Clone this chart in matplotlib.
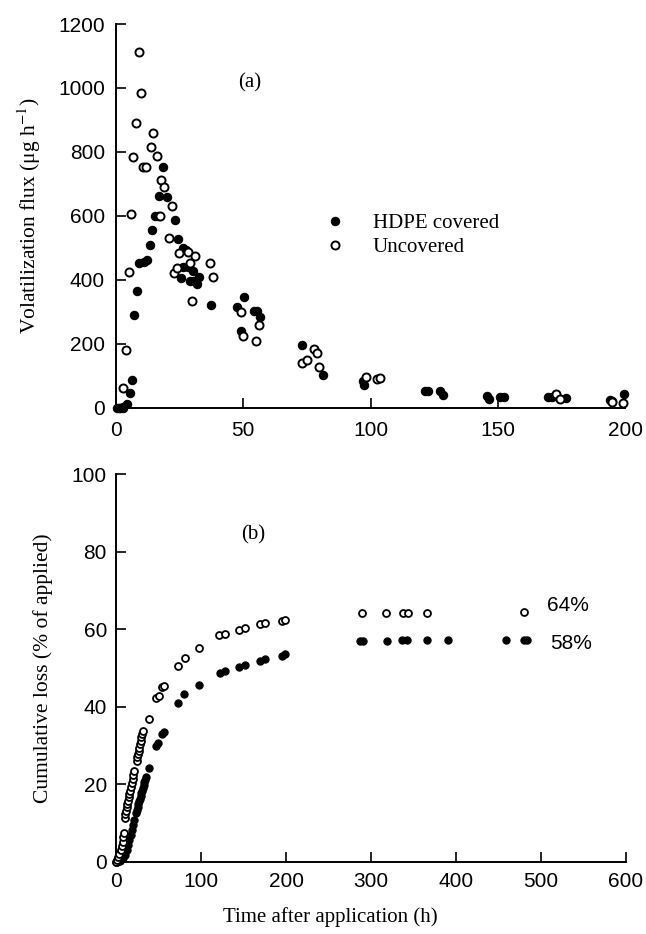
import matplotlib
matplotlib.use("Agg")
import matplotlib.pyplot as plt

# ---------------- data: panel (a) volatilization flux ----------------
t_cov_a = [0.3, 1.3, 1.6, 2.6, 2.9, 4.2, 5.5, 6.3, 7.2, 8.3, 9.2, 10.8, 12.0, 13.4, 14.3,
           15.5, 16.5, 16.8, 18.6, 20.0, 23.2, 24.2, 25.4, 26.2, 26.5, 27.3, 28.1, 29.1,
           30.4, 30.7, 31.7, 32.6, 37.5, 47.6, 49.1, 50.4, 54.3, 55.4, 56.5, 73.2, 81.4,
           97.1, 97.4, 121.3, 122.6, 127.3, 128.6, 145.7, 146.7, 150.9, 152.5, 169.6,
           171.1, 176.8, 194.2, 195.0, 199.5]
f_cov_a = [0, 0, 0, 0, 2, 12, 46, 88, 292, 366, 452, 456, 462, 508, 557,
           601, 601, 663, 752, 659, 588, 527, 405, 499, 440, 494, 442, 397,
           428, 397, 387, 410, 323, 316, 241, 348, 304, 304, 283, 197, 103,
           85, 72, 54, 54, 54, 40, 37, 27, 35, 33, 33,
           35, 30, 25, 21, 44]

t_unc_a = [2.9, 3.9, 5.0, 6.0, 6.8, 7.7, 8.9, 9.9, 10.5, 11.8, 13.9, 14.7, 16.0, 17.1,
           17.8, 18.8, 20.9, 21.9, 22.9, 23.8, 24.9, 28.1, 29.1, 29.8, 30.9, 36.9, 38.0,
           49.0, 50.0, 55.0, 56.0, 72.9, 74.9, 77.7, 78.8, 79.8, 98.4, 102.4, 103.7,
           172.8, 174.5, 195.0, 199.2]
f_unc_a = [62, 180, 424, 606, 785, 891, 1111, 983, 752, 752, 817, 860, 788, 600,
           712, 690, 532, 630, 421, 439, 484, 487, 453, 333, 475, 452, 408,
           300, 226, 208, 258, 140, 149, 185, 172, 127, 97, 92, 95,
           44, 29, 18, 17]

# ---------------- data: panel (b) cumulative loss ----------------
t_cov_b = [0, 1.6, 4.7, 7.8, 10.2, 12.5, 14.1, 15.7, 17.3, 18.8, 20.4, 21.0,
           23.5, 24.4, 25.3, 26.2, 27.1, 28.0, 28.9, 29.8, 30.7, 31.6, 32.5, 33.4, 34.3, 35.2,
           39.2, 47.0, 49.8, 54.1, 56.5, 72.5, 80.0, 98.0, 122.4, 128.6, 145.0, 152.0,
           169.4, 175.7, 195.0, 199.0, 287, 291, 318.5, 336, 342, 366, 391, 459, 480, 483]
c_cov_b = [0, 0, 0.3, 0.9, 1.8, 3.1, 4.4, 5.7, 7.0, 8.2, 9.5, 10.8,
           12.5, 13.3, 14.1, 14.9, 15.6, 16.3, 17.0, 17.7, 18.4, 19.1, 19.8, 20.5, 21.2, 21.8,
           24.1, 30.0, 30.6, 33.0, 33.4, 41.0, 43.2, 45.6, 48.8, 49.2, 50.3, 50.7,
           51.8, 52.2, 53.2, 53.5, 57.0, 57.0, 57.0, 57.1, 57.1, 57.1, 57.2, 57.2, 57.3, 57.3]

t_unc_b = [0, 0.8, 2.5, 4.0, 5.5, 6.7, 7.8, 8.6, 9.4, 10.5, 11.0, 11.8, 12.5, 13.3, 14.1,
           14.9, 15.7, 16.5, 17.6, 18.8, 19.6, 20.4, 21.2,
           24.3, 25.1, 25.9, 26.7, 27.5, 28.3, 29.1, 29.9, 30.7, 31.4,
           38.8, 47.0, 50.2, 54.1, 56.9, 73.3, 81.2, 98.0, 121.6, 127.8, 145.0, 152.0,
           169.4, 175.7, 195.0, 199.0, 289, 318, 338, 343, 366, 480]
c_unc_b = [0, 0.5, 1.2, 2.1, 3.1, 4.1, 5.2, 6.4, 7.6, 11.3, 12.3, 13.1, 14.1, 15.0, 15.8,
           16.7, 17.5, 18.4, 19.3, 20.3, 21.3, 22.4, 23.5,
           26.1, 27.0, 27.8, 28.7, 29.5, 30.4, 31.2, 32.1, 32.9, 33.8,
           36.8, 42.2, 42.8, 45.1, 45.4, 50.6, 52.5, 55.2, 58.5, 58.8, 59.8, 60.2,
           61.3, 61.5, 62.2, 62.4, 64.3, 64.3, 64.3, 64.3, 64.3, 64.4]

xticks_a = [0, 50, 100, 150, 200]
yticks_a = [0, 200, 400, 600, 800, 1000, 1200]
xticks_b = [0, 100, 200, 300, 400, 500, 600]
yticks_b = [0, 20, 40, 60, 80, 100]

SANS = "Liberation Sans"
SERIF = "Liberation Serif"
plt.rcParams["mathtext.fontset"] = "stix"

fig = plt.figure(figsize=(6.46, 9.34), dpi=100)
ax1 = fig.add_axes([0.1796, 0.5632, 0.788, 0.4111])
ax2 = fig.add_axes([0.1796, 0.0771, 0.7895, 0.4154])


def style(ax, xt, yt, xpad, ypad):
    for s in ("top", "right"):
        ax.spines[s].set_visible(False)
    for s in ("left", "bottom"):
        ax.spines[s].set_linewidth(1.4)
    ax.set_xticks(xt)
    ax.set_yticks(yt)
    ax.tick_params(axis="both", direction="in", length=7, width=1.2)
    ax.tick_params(axis="x", pad=xpad)
    ax.tick_params(axis="y", pad=ypad)
    for lab in ax.get_xticklabels() + ax.get_yticklabels():
        lab.set_fontfamily(SANS)
        lab.set_fontsize(15)


# ---- panel (a)
ax1.plot(t_cov_a, f_cov_a, "o", ms=6.0, mfc="black", mec="black", mew=0.8,
         clip_on=False, label="HDPE covered", zorder=3)
ax1.plot(t_unc_a, f_unc_a, "o", ms=5.8, mfc="white", mec="black", mew=1.4,
         clip_on=False, label="Uncovered", zorder=4)
ax1.set_xlim(0, 200)
ax1.set_ylim(0, 1200)
style(ax1, xticks_a, yticks_a, 9.5, 8.0)
ax1.set_ylabel("Volatilization flux (μg h$^{-1}$)", fontfamily=SERIF, fontsize=15.5)
ax1.yaxis.set_label_coords(-0.143, 0.5)
ax1.text(0.263, 0.846, "(a)", transform=ax1.transAxes, fontfamily=SERIF,
         fontsize=15, ha="center", va="center")
leg = ax1.legend(loc="center left", bbox_to_anchor=(0.41, 0.45), frameon=False,
                 handlelength=0.95, handletextpad=1.35, labelspacing=0.2,
                 borderpad=0, borderaxespad=0,
                 prop={"family": SERIF, "size": 15})

# ---- panel (b)
ax2.plot(t_cov_b, c_cov_b, "o", ms=5.2, mfc="black", mec="black", mew=0.8,
         clip_on=False, zorder=3)
ax2.plot(t_unc_b, c_unc_b, "o", ms=5.0, mfc="white", mec="black", mew=1.3,
         clip_on=False, zorder=4)
ax2.set_xlim(0, 600)
ax2.set_ylim(0, 100)
style(ax2, xticks_b, yticks_b, 7.0, 6.5)
ax2.set_ylabel("Cumulative loss (% of applied)", fontfamily=SERIF, fontsize=15.5)
ax2.yaxis.set_label_coords(-0.124, 0.5)
ax2.text(0.269, 0.843, "(b)", transform=ax2.transAxes, fontfamily=SERIF,
         fontsize=15, ha="center", va="center")
ax2.text(0.886, 0.662, "64%", transform=ax2.transAxes, fontfamily=SANS,
         fontsize=15, ha="center", va="center")
ax2.text(0.892, 0.564, "58%", transform=ax2.transAxes, fontfamily=SANS,
         fontsize=15, ha="center", va="center")

fig.text(330 / 646, 1 - 917 / 934, "Time after application (h)", fontfamily=SERIF,
         fontsize=15, ha="center", va="center")

fig.savefig("out.png", dpi=100, facecolor="white")
